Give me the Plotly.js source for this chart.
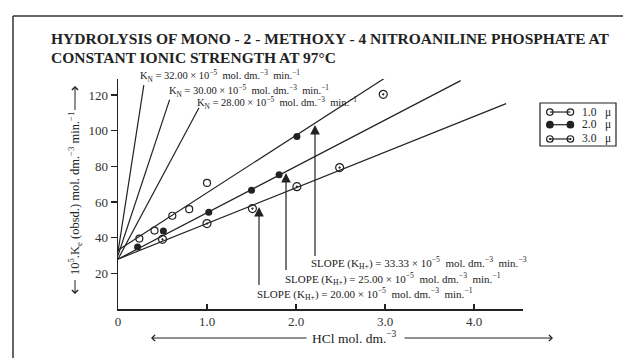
<!DOCTYPE html>
<html>
<head>
<meta charset="utf-8">
<script src="https://cdn.plot.ly/plotly-3.0.1.min.js"></script>
<style>html,body{margin:0;padding:0;background:#fff;}#chart{width:623px;height:358px;}</style>
</head>
<body>
<div id="chart"></div>
<script>
// ---- data ----
const seriesNames = ['1.0', '2.0', '3.0'];
const xOpen   = [0.24, 0.41, 0.61, 0.80, 1.00];
const yOpen   = [39.5, 44.0, 52.3, 56.0, 70.7];
const xFilled = [0.22, 0.51, 1.02, 1.50, 1.81, 2.01];
const yFilled = [34.8, 43.7, 54.2, 66.6, 75.3, 96.7];
const xDot    = [0.50, 1.00, 1.51, 2.01, 2.49, 2.98];
const yDot    = [39.1, 47.9, 56.3, 68.6, 79.3, 120.4];

const fitIntercepts = [33, 28, 28];
const fitSlopes     = [32.2, 26, 20];
const fitEndX       = [3.16, 3.85, 4.36];

const knValues   = [32.00, 30.00, 28.00];
const knLineEndX = [0.29, 0.58, 0.91];
const knLineEndY = [125.6, 117.4, 112.9];

const slopeValues = ['33.33', '25.00', '20.00'];
const slopeUnitExp = ['−3', '−1', '−1'];

const xTickVals = [0, 1, 2, 3, 4];
const xTickText = ['0', '1.0', '2.0', '3.0', '4.0'];
const yTickVals = [20, 40, 60, 80, 100, 120];

// ---- layout helpers (pixel -> paper) ----
const L = 118, PW = 505, B = 309, PH = 230;
const PX = p => (p - L) / PW;
const PY = p => (B - p) / PH;
const FONT = 'Liberation Serif, Times New Roman, serif';
const INK = '#222';

const traces = [];
for (let i = 0; i < 3; i++) {
  traces.push({x: [0, fitEndX[i]], y: [fitIntercepts[i], fitIntercepts[i] + fitSlopes[i] * fitEndX[i]],
    mode: 'lines', line: {color: INK, width: 1.2}, showlegend: false, hoverinfo: 'skip', cliponaxis: false});
}
for (let i = 0; i < 3; i++) {
  traces.push({x: [0, knLineEndX[i]], y: [knValues[i], knLineEndY[i]],
    mode: 'lines', line: {color: INK, width: 1.2}, showlegend: false, hoverinfo: 'skip', cliponaxis: false});
}
traces.push({x: xOpen, y: yOpen, mode: 'markers', showlegend: false,
  marker: {symbol: 'circle-open', size: 7, color: INK, line: {width: 1.2, color: INK}}});
traces.push({x: xFilled, y: yFilled, mode: 'markers', showlegend: false,
  marker: {symbol: 'circle', size: 7, color: INK}});
traces.push({x: xDot, y: yDot, mode: 'markers', showlegend: false, cliponaxis: false,
  marker: {symbol: 'circle-open-dot', size: 8, color: INK, line: {width: 1.2, color: INK}}});

const legRows = [0.79, 0.495, 0.163];
const legSymbols = ['circle-open', 'circle', 'circle-open-dot'];
for (let i = 0; i < 3; i++) {
  traces.push({x: [0.13, 0.40], y: [legRows[i], legRows[i]], xaxis: 'x2', yaxis: 'y2',
    mode: 'lines+markers', showlegend: false, hoverinfo: 'skip',
    line: {color: INK, width: 1.2},
    marker: {symbol: legSymbols[i], size: 6.5, color: INK, line: {width: 1.2, color: INK}}});
}

const ann = [];
ann.push({text: '<b>HYDROLYSIS OF MONO - 2 - METHOXY - 4 NITROANILINE PHOSPHATE AT</b>',
  xref: 'paper', yref: 'paper', x: PX(49), y: PY(39), xanchor: 'left', yanchor: 'middle',
  showarrow: false, font: {family: FONT, size: 15.5, color: INK}});
ann.push({text: '<b>CONSTANT IONIC STRENGTH AT 97°C</b>',
  xref: 'paper', yref: 'paper', x: PX(49), y: PY(57), xanchor: 'left', yanchor: 'middle',
  showarrow: false, font: {family: FONT, size: 15.5, color: INK}});
const knLeft = [138, 167, 195], knY = [76, 91, 103];
for (let i = 0; i < 3; i++) {
  ann.push({text: 'K<sub>N</sub> = ' + knValues[i].toFixed(2) + ' × 10<sup>−5</sup>  mol. dm.<sup>−3</sup>  min.<sup>−1</sup>',
    xref: 'paper', yref: 'paper', x: PX(knLeft[i]), y: PY(knY[i]), xanchor: 'left', yanchor: 'middle',
    showarrow: false, font: {family: FONT, size: 10.5, color: INK}});
}
const slLeft = [309, 283, 255], slY = [263, 279, 294];
for (let i = 0; i < 3; i++) {
  ann.push({text: 'SLOPE (K<sub>H+</sub>) = ' + slopeValues[i] + ' × 10<sup>−5</sup>  mol. dm.<sup>−3</sup>  min.<sup>' + slopeUnitExp[i] + '</sup>',
    xref: 'paper', yref: 'paper', x: PX(slLeft[i]), y: PY(slY[i]), xanchor: 'left', yanchor: 'middle',
    showarrow: false, font: {family: FONT, size: 11, color: INK}});
}
const arX = [315, 286, 259], arTip = [125, 173, 207], arTail = [258, 272, 287];
for (let i = 0; i < 3; i++) {
  ann.push({text: ' ', xref: 'paper', yref: 'paper', x: PX(arX[i]), y: PY(arTip[i]),
    ax: 0, ay: arTail[i] - arTip[i], showarrow: true, arrowhead: 2, arrowsize: 1.6, arrowwidth: 1.2, arrowcolor: INK, standoff: 0,
    font: {size: 1}});
}
ann.push({text: 'HCl mol. dm.<sup>−3</sup>', xref: 'paper', yref: 'paper', x: PX(354), y: PY(337),
  xanchor: 'center', yanchor: 'middle', showarrow: false, font: {family: FONT, size: 13.5, color: INK}});
ann.push({text: ' ', xref: 'paper', yref: 'paper', x: PX(151), y: PY(338), ax: 157, ay: 0,
  showarrow: true, arrowhead: 4, arrowsize: 1.2, arrowwidth: 1, arrowcolor: INK, standoff: 0, font: {size: 1}});
ann.push({text: ' ', xref: 'paper', yref: 'paper', x: PX(553), y: PY(338), ax: -150, ay: 0,
  showarrow: true, arrowhead: 4, arrowsize: 1.2, arrowwidth: 1, arrowcolor: INK, standoff: 0, font: {size: 1}});
ann.push({text: '10<sup>5</sup>.K<sub>e</sub> (obsd.) mol. dm.<sup>−3</sup> min.<sup>−1</sup>', xref: 'paper', yref: 'paper',
  x: PX(75), y: PY(194), textangle: -90, xanchor: 'center', yanchor: 'middle', showarrow: false,
  font: {family: FONT, size: 12.5, color: INK}});
ann.push({text: ' ', xref: 'paper', yref: 'paper', x: PX(75), y: PY(86), ax: 0, ay: 26,
  showarrow: true, arrowhead: 4, arrowsize: 1.2, arrowwidth: 1, arrowcolor: INK, standoff: 0, font: {size: 1}});
ann.push({text: ' ', xref: 'paper', yref: 'paper', x: PX(75), y: PY(294), ax: 0, ay: -16,
  showarrow: true, arrowhead: 4, arrowsize: 1.2, arrowwidth: 1, arrowcolor: INK, standoff: 0, font: {size: 1}});
for (let i = 0; i < 3; i++) {
  ann.push({text: seriesNames[i] + '&nbsp;&nbsp;&nbsp;μ', xref: 'x2', yref: 'y2', x: 0.52, y: legRows[i],
    xanchor: 'left', yanchor: 'middle', showarrow: false, font: {family: FONT, size: 11.5, color: INK}});
}

const shapes = [
  {type: 'line', xref: 'paper', yref: 'paper', x0: PX(13), x1: PX(640), y0: PY(16), y1: PY(16), line: {color: '#333', width: 1.5}},
  {type: 'line', xref: 'paper', yref: 'paper', x0: PX(13), x1: PX(13), y0: PY(16), y1: PY(370), line: {color: '#333', width: 1.5}},
  {type: 'rect', xref: 'paper', yref: 'paper', x0: PX(540), x1: PX(616), y0: PY(146), y1: PY(103), line: {color: INK, width: 1.2}}
];

const layout = {
  width: 623, height: 358,
  margin: {l: L, r: 0, t: 79, b: 358 - B},
  paper_bgcolor: '#fff', plot_bgcolor: '#fff',
  showlegend: false,
  font: {family: FONT, color: INK},
  xaxis: {domain: [0, 405 / PW], range: [0, 4.55], showline: true, linecolor: INK, linewidth: 1.5,
    ticks: 'inside', ticklen: 5, tickwidth: 1.2, tickcolor: INK, tickvals: xTickVals, ticktext: xTickText,
    showgrid: false, zeroline: false, tickfont: {family: FONT, size: 13, color: '#333'}, fixedrange: true},
  yaxis: {range: [0, 129], showline: true, linecolor: INK, linewidth: 1.5,
    ticks: 'outside', ticklen: 6, tickwidth: 1.2, tickcolor: INK, tickvals: yTickVals,
    showgrid: false, zeroline: false, tickfont: {family: FONT, size: 13, color: '#333'}, fixedrange: true},
  xaxis2: {domain: [PX(540), PX(616)], range: [0, 1], visible: false, anchor: 'y2', fixedrange: true},
  yaxis2: {domain: [PY(146), PY(103)], range: [0, 1], visible: false, anchor: 'x2', fixedrange: true},
  annotations: ann,
  shapes: shapes
};

Plotly.newPlot('chart', traces, layout, {displayModeBar: false, staticPlot: true});
</script>
</body>
</html>
